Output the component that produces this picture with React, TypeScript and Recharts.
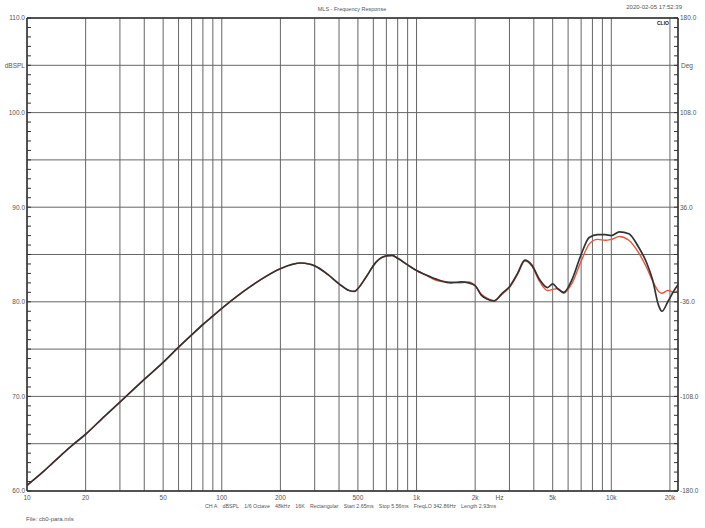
import { LineChart, Line, XAxis, YAxis, CartesianGrid, ReferenceLine } from "recharts";

const freqs = [
  10, 11, 12.2, 13.6, 15, 17, 20, 25, 30, 35, 40, 50, 60, 70, 80, 90, 100, 120, 140, 160, 200, 230, 255, 280,
  300, 350, 400, 450, 480, 500, 550, 620, 700, 750, 800, 900, 1000, 1100, 1300, 1500, 1700, 1850, 2000, 2150,
  2300, 2500, 2750, 3000, 3300, 3600, 3900, 4300, 4700, 5000, 5300, 5700, 6300, 7000, 7700, 8500, 9300, 10000,
  11000, 12300, 13700, 15200, 16300, 17500, 18200, 19500, 21000, 22000,
];

// dark trace
const traceA = [
  60.6, 61.3, 62.1, 63.0, 63.8, 64.8, 66.0, 67.9, 69.4, 70.7, 71.8, 73.6, 75.2, 76.5, 77.6, 78.5, 79.3, 80.6, 81.6, 82.4, 83.5, 83.95, 84.1, 84.0,
  83.8, 82.9, 81.9, 81.2, 81.1, 81.4, 82.6, 84.2, 84.85, 84.9, 84.6, 83.9, 83.3, 82.9, 82.3, 82.0, 82.1, 82.0, 81.7, 80.7,
  80.3, 80.1, 80.9, 81.6, 83.0, 84.4, 83.9, 82.3, 81.5, 81.9, 81.4, 81.0, 82.4, 85.0, 86.8, 87.1, 87.1, 87.0,
  87.4, 87.2, 85.9, 84.1, 82.3, 79.6, 79.0, 80.0, 81.2, 81.8,
];

// red trace
const traceB = [
  60.6, 61.3, 62.1, 63.0, 63.8, 64.8, 66.0, 67.9, 69.4, 70.7, 71.8, 73.6, 75.2, 76.5, 77.6, 78.5, 79.3, 80.6, 81.6, 82.4, 83.5, 83.95, 84.1, 84.0,
  83.8, 82.9, 81.9, 81.2, 81.1, 81.4, 82.6, 84.2, 84.85, 84.9, 84.6, 83.9, 83.3, 82.9, 82.2, 82.1, 82.0, 82.1, 81.7, 80.8,
  80.4, 80.1, 80.8, 81.5, 82.9, 84.3, 83.8, 82.1, 81.2, 81.3, 81.4, 80.9, 82.0, 84.3, 86.1, 86.6, 86.5, 86.6,
  86.9, 86.5, 85.3, 83.6, 82.2, 81.1, 80.9, 81.2, 81.0, 81.2,
];

const xGrid = [
  10, 20, 30, 40, 50, 60, 70, 80, 90, 100, 200, 300, 400, 500, 600, 700, 800, 900,
  1000, 2000, 3000, 4000, 5000, 6000, 7000, 8000, 9000, 10000, 20000,
];
const xLabelValues = [10, 20, 50, 100, 200, 500, 1000, 2000, 3000, 5000, 10000, 20000];
const xLabelTexts = ["10", "20", "50", "100", "200", "500", "1k", "2k", "Hz", "5k", "10k", "20k"];

const dbGrid = [60, 65, 70, 75, 80, 85, 90, 95, 100, 105, 110];
const dbLabels = [60, 70, 80, 90, 100, 110];
const dbMinor = Array.from({ length: 51 }, (_, i) => 60 + i);

const degLabels = [-180, -108, -36, 36, 108, 180];
const degMinor = Array.from({ length: 51 }, (_, i) => -180 + i * 7.2);

const data = freqs.map((f, i) => ({ f, a: traceA[i], b: traceB[i] }));

const FONT = "'Liberation Sans', Arial, sans-serif";
const TXT = "#555";

const XTick = (props: any) => {
  const { x, y, payload } = props;
  const idx = xLabelValues.indexOf(payload.value);
  if (idx < 0) return <g />;
  const label = xLabelTexts[idx];
  return (
    <text x={label === "Hz" ? x - 10 : x} y={y + 9} textAnchor="middle" fontSize={6.5} fill={TXT} fontFamily={FONT}>
      {label}
    </text>
  );
};

const LeftTick = (props: any) => {
  const { x, y, payload } = props;
  const v = payload.value;
  const major = dbLabels.includes(v);
  return (
    <g>
      <line x1={x} x2={x + 4} y1={y} y2={y} stroke="#333" strokeWidth={1} />
      {major && (
        <text x={x - 2} y={y + 2.3} textAnchor="end" fontSize={6.5} fill={TXT} fontFamily={FONT}>
          {v.toFixed(1)}
        </text>
      )}
    </g>
  );
};

const RightTick = (props: any) => {
  const { x, y, payload } = props;
  const v = payload.value;
  const major = degLabels.some((d) => Math.abs(d - v) < 0.01);
  return (
    <g>
      <line x1={x} x2={x - 4} y1={y} y2={y} stroke="#333" strokeWidth={1} />
      {major && (
        <text x={x + 2} y={y + 2.3} textAnchor="start" fontSize={6.5} fill={TXT} fontFamily={FONT}>
          {Math.round(v).toFixed(1)}
        </text>
      )}
    </g>
  );
};

const infoItems = [
  "CH A",
  "dBSPL",
  "1/6 Octave",
  "48kHz",
  "16K",
  "Rectangular",
  "Start 2.65ms",
  "Stop 5.56ms",
  "FreqLO 342.86Hz",
  "Length 2.93ms",
];

const abs = (left: number, top: number, size: number, extra: any = {}) => ({
  position: "absolute" as const,
  left,
  top,
  fontSize: size,
  lineHeight: 1,
  fontFamily: FONT,
  color: TXT,
  whiteSpace: "nowrap" as const,
  ...extra,
});

export default function App() {
  return (
    <div style={{ position: "absolute", left: 0, top: 0, width: 705, height: 528, background: "#fff" }}>
      <LineChart width={705} height={528} data={data} margin={{ top: 18, right: 0, bottom: 0, left: 0 }}>
        <CartesianGrid yAxisId="db" horizontalValues={dbGrid} stroke="#666" strokeWidth={1} />
        <XAxis
          dataKey="f"
          type="number"
          scale="log"
          domain={[10, 22000]}
          allowDataOverflow
          ticks={xGrid}
          interval={0}
          height={37}
          tickSize={0}
          tickMargin={0}
          tick={<XTick />}
          axisLine={{ stroke: "#333", strokeWidth: 1.5 }}
        />
        <YAxis
          yAxisId="db"
          domain={[60, 110]}
          ticks={dbMinor}
          interval={0}
          width={27}
          tickSize={0}
          tickMargin={0}
          tick={<LeftTick />}
          axisLine={{ stroke: "#333", strokeWidth: 1.5 }}
        />
        <YAxis
          yAxisId="deg"
          orientation="right"
          domain={[-180, 180]}
          allowDataOverflow
          ticks={degMinor}
          interval={0}
          width={27}
          tickSize={0}
          tickMargin={0}
          tick={<RightTick />}
          axisLine={{ stroke: "#333", strokeWidth: 1.5 }}
        />
        <ReferenceLine yAxisId="db" y={110} stroke="#333" strokeWidth={1.5} />
        <Line yAxisId="deg" dataKey="a" stroke="none" dot={false} activeDot={false} isAnimationActive={false} />
        <Line yAxisId="db" type="monotone" dataKey="b" stroke="#e4573d" strokeWidth={1.4} dot={false} isAnimationActive={false} />
        <Line yAxisId="db" type="monotone" dataKey="a" stroke="#333" strokeWidth={1.7} dot={false} isAnimationActive={false} />
      </LineChart>
      <div style={abs(352, 7, 5.5, { transform: "translateX(-50%)" })}>MLS - Frequency Response</div>
      <div style={abs(0, 4, 6, { width: 682, textAlign: "right" })}>2020-02-05 17:52:39</div>
      <div style={abs(0, 63, 6.5, { width: 25, textAlign: "right" })}>dBSPL</div>
      <div style={abs(681, 63, 6.5)}>Deg</div>
      <div style={abs(657, 21, 5, { fontWeight: "bold", color: "#222" })}>CLIO</div>
      <div style={abs(205, 504, 5.3, { display: "flex", gap: 5.2 })}>
        {infoItems.map((t) => (
          <span key={t}>{t}</span>
        ))}
      </div>
      <div style={abs(26, 516, 6)}>File: cb0-para.mls</div>
    </div>
  );
}
